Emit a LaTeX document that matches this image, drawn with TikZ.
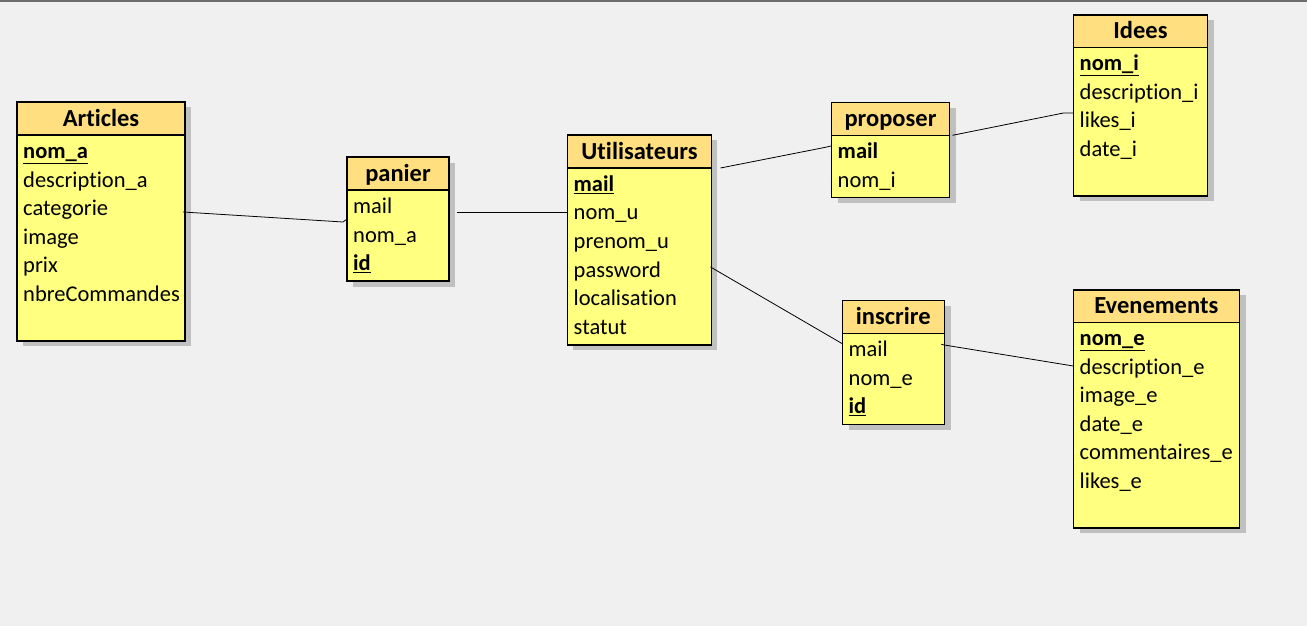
\documentclass[tikz,border=0pt]{standalone}
\usepackage{fontspec}
\setmainfont{Carlito}[Ligatures={NoCommon}]
\usetikzlibrary{calc}
\definecolor{bg}{RGB}{240,240,240}
\definecolor{headc}{RGB}{255,223,128}
\definecolor{bodyc}{RGB}{255,255,128}
\definecolor{shadc}{RGB}{192,192,192}
\definecolor{topc}{RGB}{110,110,110}
\newcommand{\keyu}[1]{\underline{\textbf{#1}}}
\tikzset{
  shadowbox/.style={fill=shadc, draw=none, anchor=north west, inner sep=0pt, outer sep=0pt},
  bodybox/.style={fill=bodyc, draw=black, line width=1.2pt, anchor=north west, inner sep=0pt, outer sep=0pt},
  headbox/.style={fill=headc, draw=black, line width=1.2pt, anchor=north west, inner sep=0pt, outer sep=0pt},
  title/.style={anchor=base, inner sep=0pt, font=\fontsize{24.5}{26}\selectfont\bfseries},
  attr/.style={anchor=base west, inner sep=0pt, font=\fontsize{22.5}{24}\selectfont},
  link/.style={draw=black, line width=0.8pt},
}
\begin{document}
\begin{tikzpicture}[x=1pt,y=-1pt]
\fill[bg] (0,0) rectangle (1307,626);
\useasboundingbox (0,0) rectangle (1307,626);
\fill[topc] (0,0) rectangle (1307,1.6);

% ---------- Articles
\node[shadowbox, minimum width=168pt, minimum height=239pt] (artS) at (23,107) {};
\node[bodybox, minimum width=168pt, minimum height=239pt] (art) at (17,102) {};
\node[headbox, minimum width=168pt, minimum height=33pt] (artH) at (17,102) {};
\node[title] (artT) at (101,126) {Articles};
\node[attr] (art1) at (23,158.5) {\keyu{nom\_a}};
\node[attr] (art2) at (23,187.1) {description\_a};
\node[attr] (art3) at (23,215.7) {categorie};
\node[attr] (art4) at (23,244.3) {image};
\node[attr] (art5) at (23,272.9) {prix};
\node[attr] (art6) at (23,301.5) {nbreCommandes};

% ---------- panier
\node[shadowbox, minimum width=102pt, minimum height=124pt] (panS) at (353,163) {};
\node[bodybox, minimum width=102pt, minimum height=124pt] (pan) at (347,157) {};
\node[headbox, minimum width=102pt, minimum height=33pt] (panH) at (347,157) {};
\node[title] (panT) at (398,181) {panier};
\node[attr] (pan1) at (353,213.5) {mail};
\node[attr] (pan2) at (353,242.1) {nom\_a};
\node[attr] (pan3) at (353,270.7) {\keyu{id}};

% ---------- Utilisateurs
\node[shadowbox, minimum width=144pt, minimum height=210pt] (utiS) at (573,140) {};
\node[bodybox, minimum width=144pt, minimum height=210pt] (uti) at (567.5,135) {};
\node[headbox, minimum width=144pt, minimum height=33pt] (utiH) at (567.5,135) {};
\node[title] (utiT) at (639.5,159) {Utilisateurs};
\node[attr] (uti1) at (573.5,191.2) {\keyu{mail}};
\node[attr] (uti2) at (573.5,219.8) {nom\_u};
\node[attr] (uti3) at (573.5,248.4) {prenom\_u};
\node[attr] (uti4) at (573.5,277.0) {password};
\node[attr] (uti5) at (573.5,305.6) {localisation};
\node[attr] (uti6) at (573.5,334.2) {statut};

% ---------- proposer
\node[shadowbox, minimum width=118pt, minimum height=95pt] (proS) at (837.5,107.5) {};
\node[bodybox, minimum width=118pt, minimum height=95pt] (pro) at (831.5,102.3) {};
\node[headbox, minimum width=118pt, minimum height=33pt] (proH) at (831.5,102.3) {};
\node[title] (proT) at (890.5,126.2) {proposer};
\node[attr] (pro1) at (837.5,158.5) {\textbf{mail}};
\node[attr] (pro2) at (837.5,187.1) {nom\_i};

% ---------- Idees
\node[shadowbox, minimum width=134pt, minimum height=181pt] (ideS) at (1079.5,20) {};
\node[bodybox, minimum width=134pt, minimum height=181pt] (ide) at (1073.5,15) {};
\node[headbox, minimum width=134pt, minimum height=32.5pt] (ideH) at (1073.5,15) {};
\node[title] (ideT) at (1140.5,38.7) {Idees};
\node[attr] (ide1) at (1079.5,70.5) {\keyu{nom\_i}};
\node[attr] (ide2) at (1079.5,99.1) {description\_i};
\node[attr] (ide3) at (1079.5,127.7) {likes\_i};
\node[attr] (ide4) at (1079.5,156.3) {date\_i};

% ---------- inscrire
\node[shadowbox, minimum width=102pt, minimum height=124pt] (insS) at (848.5,306) {};
\node[bodybox, minimum width=102pt, minimum height=124pt] (ins) at (842.3,300.7) {};
\node[headbox, minimum width=102pt, minimum height=32.6pt] (insH) at (842.3,300.7) {};
\node[title] (insT) at (893.3,324.5) {inscrire};
\node[attr] (ins1) at (848.5,356.6) {mail};
\node[attr] (ins2) at (848.5,385.2) {nom\_e};
\node[attr] (ins3) at (848.5,413.8) {\keyu{id}};

% ---------- Evenements
\node[shadowbox, minimum width=166pt, minimum height=238pt] (eveS) at (1079.5,295) {};
\node[bodybox, minimum width=166pt, minimum height=238pt] (eve) at (1073.3,290) {};
\node[headbox, minimum width=166pt, minimum height=32.3pt] (eveH) at (1073.3,290) {};
\node[title] (eveT) at (1156.3,313.8) {Evenements};
\node[attr] (eve1) at (1079.5,345.5) {\keyu{nom\_e}};
\node[attr] (eve2) at (1079.5,374.1) {description\_e};
\node[attr] (eve3) at (1079.5,402.7) {image\_e};
\node[attr] (eve4) at (1079.5,431.3) {date\_e};
\node[attr] (eve5) at (1079.5,459.9) {commentaires\_e};
\node[attr] (eve6) at (1079.5,488.5) {likes\_e};

% ---------- connectors
\draw[link] ([shift={(-2,110)}]art.north east) -- ([shift={(-4,65)}]pan.north west) -- ([shift={(0,62)}]pan.north west);
\draw[link] ([shift={(8,55)}]pan.north east) -- ([shift={(0,77)}]uti.north west);
\draw[link] ([shift={(9,33)}]uti.north east) -- ([shift={(-6,45)}]pro.north west) -- ([shift={(0,43.5)}]pro.north west);
\draw[link] ([shift={(3,33)}]pro.north east) -- ([shift={(-10,98)}]ide.north west) -- ([shift={(0,98)}]ide.north west);
\draw[link] ([shift={(-1,132)}]uti.north east) -- ([shift={(0,43)}]ins.north west);
\draw[link] ([shift={(-3,43.6)}]ins.north east) -- ([shift={(0,44.3)}]ins.north east) -- ([shift={(0,76)}]eve.north west);
\end{tikzpicture}
\end{document}
